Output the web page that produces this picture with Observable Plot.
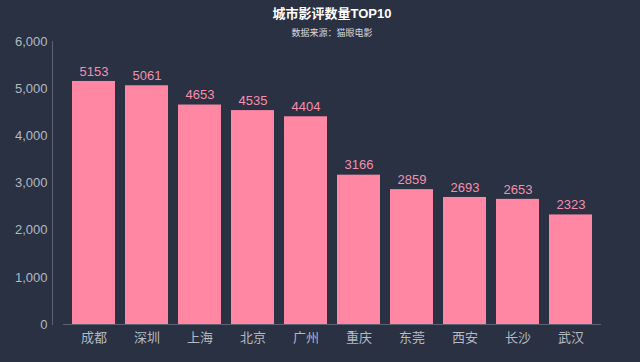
<!DOCTYPE html>
<html>
<head>
<meta charset="utf-8">
<script src="https://cdn.jsdelivr.net/npm/d3@7"></script>
<script src="https://cdn.jsdelivr.net/npm/@observablehq/plot@0.6"></script>
<style>
  html, body { margin: 0; padding: 0; background: #293142; }
  #wrap { position: relative; width: 640px; height: 362px; background: #293142; font-family: "Liberation Sans", "Noto Sans CJK SC", sans-serif; }
  #title { position: absolute; left: 63px; width: 538px; top: 5px; text-align: center; color: #ffffff; font-weight: bold; font-size: 13px; line-height: 18px; }
  #subtitle { position: absolute; left: 63px; width: 538px; top: 26px; text-align: center; color: #d8dbe0; font-size: 9px; line-height: 14px; }
  #chart { position: absolute; left: 0; top: 0; }
</style>
</head>
<body>
<div id="wrap">
  <div id="chart"></div>
  <div id="title">城市影评数量TOP10</div>
  <div id="subtitle">数据来源：猫眼电影</div>
</div>
<script>
const cities = ["成都", "深圳", "上海", "北京", "广州", "重庆", "东莞", "西安", "长沙", "武汉"];
const counts = [5153, 5061, 4653, 4535, 4404, 3166, 2859, 2693, 2653, 2323];
const yTicks = [0, 1000, 2000, 3000, 4000, 5000, 6000];

const data = cities.map((c, i) => ({city: c, count: counts[i]}));
const axisColor = "#5b6372";
const pink = "#ff87a4";
const labelPink = "#f490ae";

const chart = Plot.plot({
  width: 640,
  height: 362,
  marginTop: 41,
  marginBottom: 38,
  marginLeft: 63,
  marginRight: 39,
  style: { background: "transparent", fontFamily: "'Liberation Sans', 'Noto Sans CJK SC', sans-serif", fontSize: "13px", color: "#b4b9c2" },
  x: { domain: cities, padding: 0, label: null },
  y: { domain: [0, 6000], label: null },
  marks: [
    Plot.frame({ anchor: "left", stroke: axisColor, dx: -11 }),
    Plot.barY(data, { x: "city", y: "count", fill: pink, insetLeft: 5, insetRight: 5 }),
    Plot.ruleY([0], { stroke: axisColor }),
    Plot.text(data, { x: "city", y: "count", text: d => String(d.count), dy: -10, fill: labelPink, fontSize: 13 }),
    Plot.axisY({ ticks: yTicks, tickSize: 0, tickPadding: 16, tickFormat: d3.format(","), fill: "#b4b9c2", fontSize: 13, label: null }),
    Plot.axisX({ tickSize: 0, tickPadding: 8, fill: "#b4b9c2", fontSize: 13, label: null })
  ]
});
document.getElementById("chart").appendChild(chart);
</script>
</body>
</html>
